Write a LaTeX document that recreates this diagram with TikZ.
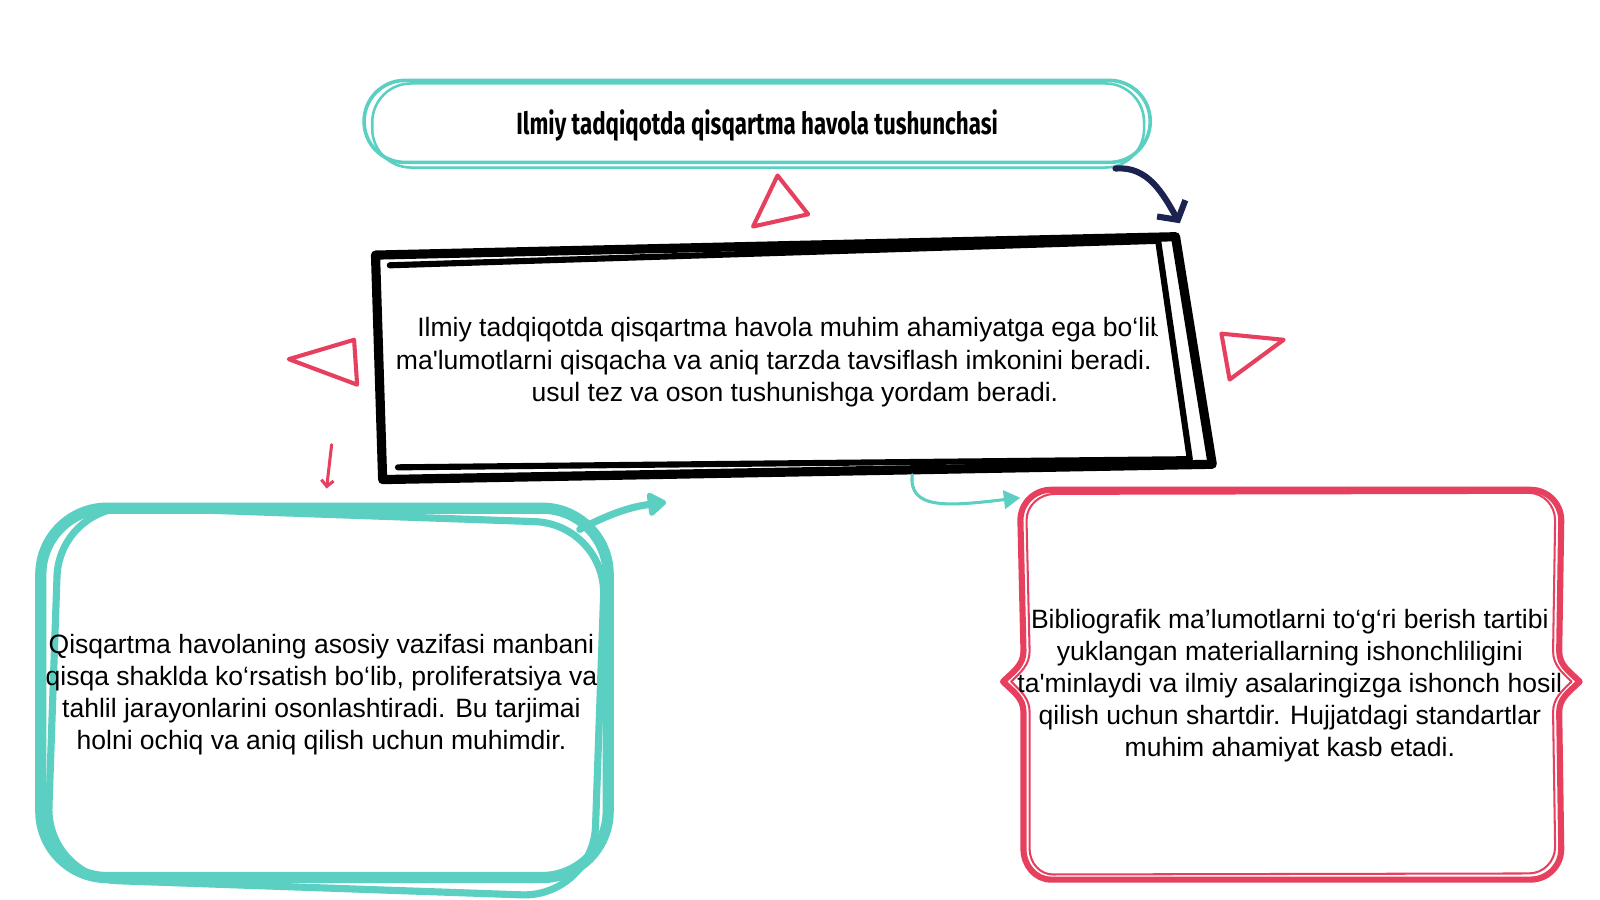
\documentclass[tikz,border=0pt]{standalone}
\usepackage{fontspec}
\setmainfont{Liberation Sans}
\newfontfamily\titlefont[FakeStretch=0.73]{Fira Sans}
\usetikzlibrary{arrows.meta}
\definecolor{tealink}{HTML}{5ACFC2}
\definecolor{roseink}{HTML}{E6405E}
\definecolor{navyink}{HTML}{1D2350}
\tikzset{>=latex}

\begin{document}
\begin{tikzpicture}[
    x=1pt, y=1pt,
    every node/.style={align=center, inner sep=0pt},
    bodytext/.style={font=\fontsize{26}{31.5}\selectfont},
    tri/.style={draw=roseink, line width=4pt, line join=round},
    tealline/.style={draw=tealink, line cap=round, line join=round},
    roseline/.style={draw=roseink, line cap=round, line join=round},
    inkline/.style={draw=black, line width=9pt, line cap=round, line join=round}
]
    \useasboundingbox[fill=white] (0,18) rectangle (1568,900);

    % Nodes
    \node (title) [minimum width=770pt, minimum height=80pt] at (742,777)
        {\titlefont\bfseries\fontsize{30}{32}\selectfont Ilmiy tadqiqotda qisqartma havola tushunchasi};
    \draw[tealline, line width=3.5pt, rounded corners=40pt] ([yshift=4]title.south west) rectangle ([yshift=4]title.north east);
    \draw[tealline, line width=2.5pt, rounded corners=38pt] ([shift={(8,-1)}]title.south west) rectangle ([shift={(-6,1)}]title.north east);

    \begin{scope}
        \clip (378,644) -- (1118,662) -- (1155,452) -- (386,438) -- cycle;
        \node (main) [bodytext, minimum width=790pt, minimum height=220pt] at (779,545)
            {Ilmiy tadqiqotda qisqartma havola muhim ahamiyatga ega bo‘lib,\\
             ma\textquotesingle lumotlarni qisqacha va aniq tarzda tavsiflash imkonini beradi. Bu\\
             usul tez va oson tushunishga yordam beradi.};
    \end{scope}
    \draw[inkline] (368,650) -- (1152,668) -- (1188,445) -- (375,430) -- cycle;
    \draw[inkline, line width=6pt] (382,640) -- (1135,664) -- (1166,450) -- (390,442);

    \draw[tealline, line width=11pt, rounded corners=65pt] (40,40) rectangle (596,402);
    \draw[tealline, line width=7pt, rounded corners=70pt, rotate around={-2:(315,220)}] (52,30) rectangle (588,396);
    \node (left) [bodytext, minimum width=570pt, minimum height=380pt] at (315,219)
        {Qisqartma havolaning asosiy vazifasi manbani\\
         qisqa shaklda ko‘rsatish bo‘lib, proliferatsiya va\\
         tahlil jarayonlarini osonlashtiradi. Bu tarjimai\\
         holni ochiq va aniq qilish uchun muhimdir.};

    \draw[roseline, line width=6pt] (1030,420) -- (1500,420) to[out=0,in=90] (1530,390) -- (1528,262)
        to[out=-90,in=135] (1548,232) to[out=-135,in=90] (1528,202) -- (1530,68) to[out=-90,in=0] (1500,38)
        -- (1030,38) to[out=180,in=-90] (1003,68) -- (1003,202) to[out=90,in=-45] (983,232)
        to[out=45,in=-90] (1003,262) -- (1000,390) to[out=90,in=180] cycle;
    \draw[roseline, line width=2pt] (1034,416) -- (1498,417) to[out=0,in=90] (1524,390) -- (1522,262)
        to[out=-90,in=135] (1540,232) to[out=-135,in=90] (1522,202) -- (1524,70) to[out=-90,in=0] (1498,44)
        -- (1032,43) to[out=180,in=-90] (1009,68) -- (1009,202) to[out=90,in=-45] (991,232)
        to[out=45,in=-90] (1009,262) -- (1006,390) to[out=90,in=180] cycle;
    \node (right) [bodytext, minimum width=540pt, minimum height=384pt] at (1264,228)
        {Bibliografik ma’lumotlarni to‘g‘ri berish tartibi\\
         yuklangan materiallarning ishonchliligini\\
         ta\textquotesingle minlaydi va ilmiy asalaringizga ishonch hosil\\
         qilish uchun shartdir. Hujjatdagi standartlar\\
         muhim ahamiyat kasb etadi.};

    % Triangles
    \draw[tri] (762,728) -- (738,678) -- (792,690) -- cycle;
    \draw[tri] (283,548) -- (347,567) -- (350,523) -- cycle;
    \draw[tri] (1197,573) -- (1258,567) -- (1205,528) -- cycle;

    % Arrows
    \draw[navyink, line width=6pt, line cap=round, -{Straight Barb[length=13pt,width=32pt]}]
        ([shift={(-34,-2)}]title.south east) to[out=5,in=120] ([shift={(-18,26)}]main.north east);
    \draw[tealline, line width=7pt, -{Triangle[length=20pt,width=26pt,round]}]
        ([shift={(-32,-28)}]left.north east) to[bend left=10] ([shift={(269,-27)}]main.south west);
    \draw[tealline, line width=3pt, -{Triangle[length=16pt,width=18pt]}]
        ([xshift=115]main.south) .. controls (890,400) and (930,404) .. ([shift={(6,-8)}]right.north west);
    \draw[roseline, line width=3pt, -{Straight Barb[length=6pt,width=12pt]}]
        ([shift={(10,55)}]left.north) -- ([shift={(5,12)}]left.north);
\end{tikzpicture}
\end{document}
